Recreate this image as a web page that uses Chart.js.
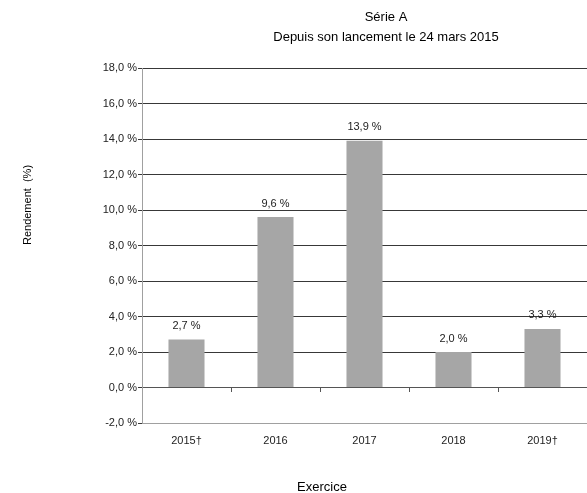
<!DOCTYPE html>
<html>
<head>
<meta charset="utf-8">
<script src="https://cdn.jsdelivr.net/npm/chart.js@4"></script>
<style>
  body { margin: 0; background: #fff; }
  #wrap { width: 587px; height: 493px; position: relative; }
</style>
</head>
<body>
<div id="wrap"><canvas id="chart"></canvas></div>
<script>
const categories = ['2015†', '2016', '2017', '2018', '2019†'];
const rendement = [2.7, 9.6, 13.9, 2.0, 3.3];
const yMin = -2, yMax = 18, yStep = 2;

const FONT = '"Liberation Sans", Arial, sans-serif';
const fmt = v => v.toFixed(1).replace('.', ',') + ' %';

// textes autour du graphique + étiquettes des barres
const decorations = {
  id: 'decorations',
  afterDatasetsDraw(chart) {
    const ctx = chart.ctx;
    ctx.save();
    ctx.fillStyle = '#222';
    ctx.font = '11px ' + FONT;
    ctx.textAlign = 'center';
    ctx.textBaseline = 'bottom';
    chart.getDatasetMeta(0).data.forEach((bar, i) => {
      ctx.fillText(fmt(rendement[i]), bar.x, bar.y - 8);
    });

    ctx.fillStyle = '#000';
    ctx.font = '13px ' + FONT;
    ctx.textBaseline = 'middle';
    ctx.fillText('Série A', 386, 17);
    ctx.fillText('Depuis son lancement le 24 mars 2015', 386, 37);
    ctx.fillText('Exercice', 322, 487);

    ctx.font = '11px ' + FONT;
    ctx.translate(28, 205);
    ctx.rotate(-Math.PI / 2);
    ctx.fillText('Rendement  (%)', 0, 0);
    ctx.restore();
  }
};

new Chart(document.getElementById('chart'), {
  type: 'bar',
  data: {
    labels: categories,
    datasets: [{
      data: rendement,
      backgroundColor: '#a6a6a6',
      borderWidth: 0,
      categoryPercentage: 1,
      barPercentage: 0.405
    }]
  },
  options: {
    responsive: true,
    maintainAspectRatio: false,
    animation: false,
    layout: { padding: { top: 68, left: 0, right: 0, bottom: 0 } },
    plugins: { legend: { display: false }, tooltip: { enabled: false }, title: { display: false } },
    scales: {
      x: {
        grid: { display: false },
        border: { display: true, color: '#a0a0a0' },
        ticks: { color: '#222', font: { family: FONT, size: 11 }, padding: 3 },
        afterFit(s) { s.height = 70; }
      },
      xZero: {
        type: 'category',
        position: { y: 0 },
        offset: true,
        grid: { drawOnChartArea: false, drawTicks: true, tickLength: 4, color: '#555', offset: true },
        border: { display: true, color: '#555' },
        ticks: { display: false }
      },
      y: {
        min: yMin,
        max: yMax,
        ticks: {
          stepSize: yStep,
          color: '#222',
          font: { family: FONT, size: 11 },
          padding: 1,
          callback: v => fmt(v)
        },
        grid: { color: '#383838', tickLength: 4, drawTicks: true },
        border: { display: true, color: '#a0a0a0' },
        afterFit(s) { s.width = 142; }
      }
    }
  },
  plugins: [decorations]
});
</script>
</body>
</html>
